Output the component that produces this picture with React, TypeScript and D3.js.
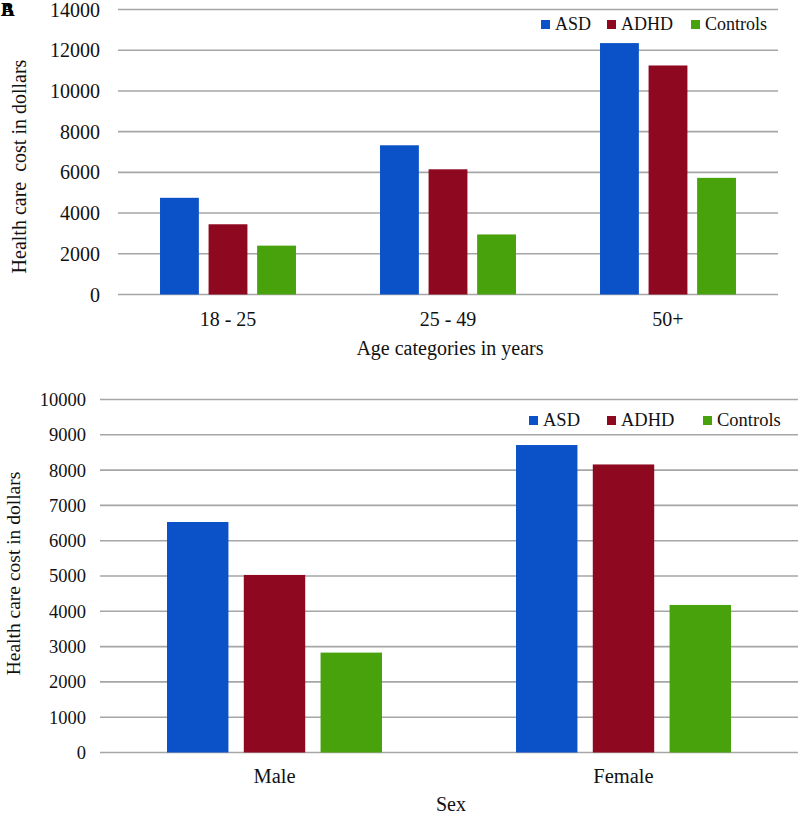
import React from "react";
import * as d3 from "d3";

const series = ["ASD", "ADHD", "Controls"];
const colors = ["#0B52C8", "#8E0820", "#48A20C"];

const ageCategories = ["18 - 25", "25 - 49", "50+"];
const ageASD = [4750, 7330, 12350];
const ageADHD = [3450, 6150, 11250];
const ageControls = [2400, 2950, 5730];
const ageTicks = [0, 2000, 4000, 6000, 8000, 10000, 12000, 14000];

const sexCategories = ["Male", "Female"];
const sexASD = [6530, 8710];
const sexADHD = [5030, 8160];
const sexControls = [2830, 4180];
const sexTicks = [0, 1000, 2000, 3000, 4000, 5000, 6000, 7000, 8000, 9000, 10000];

const FONT = "Liberation Serif, Times New Roman, DejaVu Serif, serif";

type PanelProps = {
  categories: string[];
  values: number[][];
  ticks: number[];
  x0: number; x1: number; y0: number; y1: number;
  labelRight: number; tickSize: number;
  padding: number;
  yTitle: string; yTitleX: number; yTitleY: number; yTitleSize: number;
  xTitle: string; xTitleX: number; xTitleY: number; catLabelY: number; catSize: number;
  legendXs: number[]; legendY: number; legendSize: number;
};

const txt = (size: number) => ({ fontFamily: FONT, fontSize: size, fill: "#111" } as React.CSSProperties);

function Panel(p: PanelProps) {
  const max = p.ticks[p.ticks.length - 1];
  const y = d3.scaleLinear().domain([0, max]).range([p.y0, p.y1]);
  const x = d3.scaleBand<string>().domain(p.categories).range([p.x0, p.x1])
    .paddingInner(p.padding).paddingOuter(p.padding / 2);
  const xi = d3.scaleBand<string>().domain(series).range([0, x.bandwidth()]).paddingInner(0.2);
  return (
    <g>
      {p.ticks.map((t) => (
        <g key={t}>
          <line x1={p.x0} x2={p.x1} y1={y(t)} y2={y(t)} stroke="#A6A6A6" strokeWidth={1.6} />
          <text x={p.labelRight} y={y(t)} dy="0.35em" textAnchor="end" style={txt(p.tickSize)}>{t}</text>
        </g>
      ))}
      {p.categories.map((c, ci) => (
        <g key={c} transform={`translate(${x(c)},0)`}>
          {series.map((s, si) => {
            const v = p.values[si][ci];
            return (
              <rect key={s} x={xi(s)} y={y(v)} width={xi.bandwidth()} height={y(0) - y(v)} fill={colors[si]} />
            );
          })}
          <text x={x.bandwidth() / 2} y={p.catLabelY} textAnchor="middle" style={txt(p.catSize)}>{c}</text>
        </g>
      ))}
      <text x={p.xTitleX} y={p.xTitleY} textAnchor="middle" style={txt(20)}>{p.xTitle}</text>
      <text transform={`translate(${p.yTitleX},${p.yTitleY}) rotate(-90)`} textAnchor="middle" style={{ ...txt(p.yTitleSize), whiteSpace: "pre" }}>{p.yTitle}</text>
      {series.map((s, si) => (
        <g key={s} transform={`translate(${p.legendXs[si]},${p.legendY})`}>
          <rect x={0} y={-10} width={9} height={9} fill={colors[si]} />
          <text x={14} y={0} style={txt(p.legendSize)}>{s}</text>
        </g>
      ))}
    </g>
  );
}

export default function App() {
  return (
    <svg width={800} height={814} style={{ position: "absolute", left: 0, top: 0, background: "#fff" }}>
      <rect width={800} height={814} fill="#fff" />
      <Panel
        categories={ageCategories}
        values={[ageASD, ageADHD, ageControls]}
        ticks={ageTicks}
        x0={118} x1={778} y0={294.5} y1={9.5}
        labelRight={100} tickSize={20}
        padding={0.382}
        yTitle={"Health care  cost in dollars"} yTitleX={26} yTitleY={166.5} yTitleSize={20}
        xTitle="Age categories in years" xTitleX={450} xTitleY={355} catLabelY={326} catSize={20}
        legendXs={[541, 607, 691]} legendY={30} legendSize={18}
      />
      <Panel
        categories={sexCategories}
        values={[sexASD, sexADHD, sexControls]}
        ticks={sexTicks}
        x0={100} x1={798} y0={752.5} y1={399.5}
        labelRight={86} tickSize={18.5}
        padding={0.384}
        yTitle="Health care cost in dollars" yTitleX={20} yTitleY={573.5} yTitleSize={19.5}
        xTitle="Sex" xTitleX={451} xTitleY={811} catLabelY={783} catSize={20.5}
        legendXs={[529, 607, 703]} legendY={426} legendSize={18.5}
      />
      <text x={1} y={16} style={{ ...txt(19), fontWeight: "bold", fill: "#000" }}>A</text>
      <text x={1} y={16} style={{ ...txt(19), fontWeight: "bold", fill: "#000" }}>B</text>
    </svg>
  );
}
